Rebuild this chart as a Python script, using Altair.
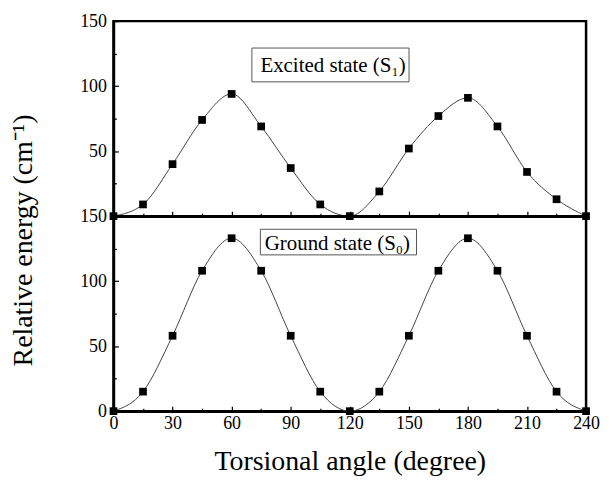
import altair as alt
import pandas as pd

# ---- data ----
angles = [0, 15, 30, 45, 60, 75, 90, 105, 120, 135, 150, 165, 180, 195, 210, 225, 240]
s1_energy = [0, 9, 40, 74, 94, 69, 37, 9, 0, 19, 52, 77, 91, 69, 34, 13, 0]
s0_energy = [0, 15, 58, 108, 133, 108, 58, 15, 0, 15, 58, 108, 133, 108, 58, 15, 0]
x_major = [0, 30, 60, 90, 120, 150, 180, 210, 240]
x_minor = [15, 45, 75, 105, 135, 165, 195, 225]
y_major = [0, 50, 100, 150]
y_minor = [25, 75, 125]

s1_label = "Excited state (S\u2081)"
s0_label = "Ground state (S\u2080)"

FONT = "Liberation Serif"
W, H = 475, 196


def tick_axis(orient, values, size, offset):
    return alt.Axis(orient=orient, values=values, labels=False, domain=False,
                    grid=False, title=None, ticks=True, tickSize=size,
                    tickColor="black", tickWidth=1.2, offset=offset)


def panel(values, bottom, label, box, text_xy):
    df = pd.DataFrame({"angle": angles, "energy": values})
    xscale = alt.Scale(domain=[0, 240], nice=False, zero=False)
    yscale = alt.Scale(domain=[0, 150], nice=False)

    yvals = y_major if bottom else [v for v in y_major if v > 0]

    xaxis = alt.Axis(
        orient="bottom",
        values=x_major,
        labels=bottom, labelFlush=False,
        title="Torsional angle (degree)" if bottom else None,
        titleX=W / 2, titleY=59, titleBaseline="alphabetic", titleAlign="center",
        titleFont=FONT, titleFontSize=28, titleFontWeight="normal", titleColor="black",
        labelFont=FONT, labelFontSize=18, labelColor="black", labelPadding=3,
        ticks=False, domainColor="black", domainWidth=2.5, grid=False,
    )
    yaxis = alt.Axis(
        orient="left",
        values=yvals, labelFlush=False,
        title="Relative energy (cm\u207b\u00b9)" if bottom else None,
        titleX=-82, titleY=24, titleAngle=270, titleBaseline="alphabetic", titleAlign="center",
        titleFont=FONT, titleFontSize=28, titleFontWeight="normal", titleColor="black",
        labelFont=FONT, labelFontSize=18, labelColor="black", labelPadding=7,
        ticks=False, domainColor="black", domainWidth=2.5, grid=False,
    )

    base = alt.Chart(df)
    line = base.mark_line(color="#444", strokeWidth=1, interpolate="monotone").encode(
        x=alt.X("angle:Q", scale=xscale, axis=xaxis),
        y=alt.Y("energy:Q", scale=yscale, axis=yaxis),
    )
    pts = base.mark_square(size=60, color="black", opacity=1).encode(
        x=alt.X("angle:Q", axis=tick_axis("top", x_major, 5, -H)),
        y=alt.Y("energy:Q", axis=tick_axis("right", y_major, 5, -W)),
    )
    rect = alt.Chart().mark_rect(fill="white", stroke="#555", strokeWidth=1).encode(
        x=alt.X(datum=box[0], axis=tick_axis("top", x_minor, 3, -H)),
        x2=alt.datum(box[1]),
        y=alt.Y(datum=box[2], axis=tick_axis("right", y_minor, 3, -W)),
        y2=alt.datum(box[3]),
    )
    txt = alt.Chart().mark_text(font=FONT, fontSize=21, color="black",
                                baseline="alphabetic", align="center").encode(
        x=alt.X(datum=text_xy[0], axis=None),
        y=alt.Y(datum=text_xy[1], axis=None),
        text=alt.value(label),
    )
    return alt.layer(line, pts, rect, txt).resolve_axis(
        x="independent", y="independent"
    ).properties(width=W, height=H)


top = panel(s1_energy, False, s1_label, (70.3, 150.1, 129.3, 103.3), (111.5, 110.9))
bot = panel(s0_energy, True, s0_label, (74.6, 153.9, 139.9, 120.2), (113.7, 124.2))

chart = alt.vconcat(top, bot, spacing=0, bounds="flush").configure_view(
    stroke="black", strokeWidth=2.5
).properties(background="white", padding={"left": 0, "top": 1, "right": 0, "bottom": 0})

chart.save("out.html", embed_options={"renderer": "svg", "actions": False})
